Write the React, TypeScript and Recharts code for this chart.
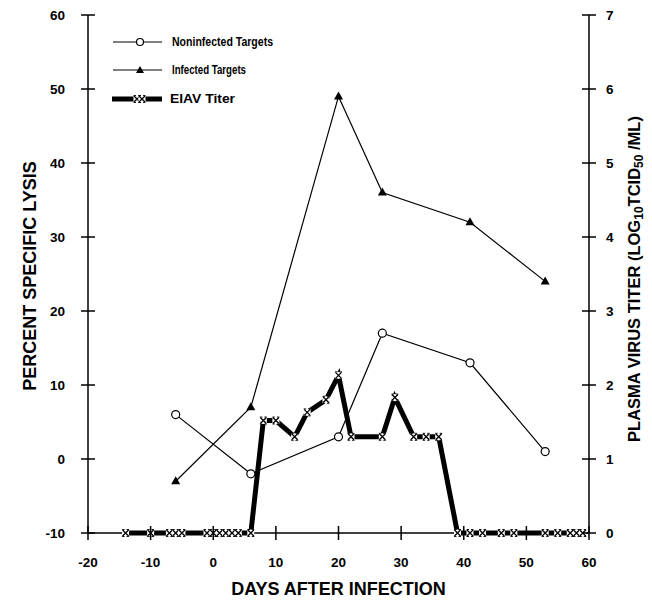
import { ComposedChart, Line, XAxis, YAxis, Legend } from 'recharts'

// days after infection / percent specific lysis
const lysisDays = [-6, 6, 20, 27, 41, 53]
const noninfectedLysis = [6, -2, 3, 17, 13, 1]
const infectedLysis = [-3, 7, 49, 36, 32, 24]

// plasma virus titer, log10 TCID50/ml
const titerDays = [-14, -10, -7, -6, -5, -1, 0, 1, 2, 3, 4, 6, 8, 10, 13, 15, 18, 20, 22, 27, 29, 32, 34, 36, 39, 41, 43, 46, 48, 53, 55, 57, 58, 59]
const titerValues = [0, 0, 0, 0, 0, 0, 0, 0, 0, 0, 0, 0, 1.52, 1.52, 1.3, 1.63, 1.8, 2.13, 1.3, 1.3, 1.83, 1.3, 1.3, 1.3, 0, 0, 0, 0, 0, 0, 0, 0, 0, 0]

const xTicks = [-20, -10, 0, 10, 20, 30, 40, 50, 60]
const lysisTicks = [-10, 0, 10, 20, 30, 40, 50, 60]
const titerTicks = [0, 1, 2, 3, 4, 5, 6, 7]

const noninfected = lysisDays.map((d, i) => ({ day: d, lysis: noninfectedLysis[i] }))
const infected = lysisDays.map((d, i) => ({ day: d, lysis: infectedLysis[i] }))
const titer = titerDays.map((d, i) => ({ day: d, titer: titerValues[i] }))

const W = 652
const H = 601
const LEFT = 88
const RIGHT = 589
const TOP = 15
const BOTTOM = 533
const FONT = '"Liberation Sans", Arial, sans-serif'

function LeftTick({ y, payload }: any) {
  return (
    <g>
      <line x1={LEFT - 7} x2={LEFT + 7} y1={y} y2={y} stroke="#000" strokeWidth={1.5} />
      <text x={LEFT - 23} y={y} textAnchor="end" dominantBaseline="central"
        fontFamily={FONT} fontWeight="bold" fontSize={13.5}>{payload.value}</text>
    </g>
  )
}

function RightTick({ y, payload }: any) {
  return (
    <g>
      <line x1={RIGHT - 7} x2={RIGHT + 7} y1={y} y2={y} stroke="#000" strokeWidth={1.5} />
      <text x={RIGHT + 17} y={y} textAnchor="start" dominantBaseline="central"
        fontFamily={FONT} fontWeight="bold" fontSize={13.5}>{payload.value}</text>
    </g>
  )
}

function BottomTick({ x, payload }: any) {
  return (
    <g>
      <line x1={x} x2={x} y1={BOTTOM - 7} y2={BOTTOM + 7} stroke="#000" strokeWidth={1.5} />
      <text x={x} y={BOTTOM + 29} textAnchor="middle" dominantBaseline="central"
        fontFamily={FONT} fontWeight="bold" fontSize={13.5}>{payload.value}</text>
    </g>
  )
}

function CircleDot({ cx, cy, index }: any) {
  return <circle key={`c-${index}`} cx={cx} cy={cy} r={4} fill="#fff" stroke="#000" strokeWidth={1.2} />
}

function TriangleDot({ cx, cy, index }: any) {
  return <path key={`t-${index}`} d={`M${cx},${cy - 5} L${cx + 4.5},${cy + 3} L${cx - 4.5},${cy + 3} Z`} fill="#000" />
}

function CrossMark({ cx, cy }: { cx: number; cy: number }) {
  return (
    <g>
      <rect x={cx - 3.5} y={cy - 3.5} width={7} height={7} fill="#fff" />
      <path d={`M${cx - 3},${cy - 3} L${cx + 3},${cy + 3} M${cx + 3},${cy - 3} L${cx - 3},${cy + 3}`} stroke="#000" strokeWidth={1.3} />
      <path d={`M${cx - 3.5},${cy - 3.5} L${cx - 1},${cy - 3.5} M${cx + 1},${cy - 3.5} L${cx + 3.5},${cy - 3.5} M${cx - 3.5},${cy + 3.5} L${cx - 1},${cy + 3.5} M${cx + 1},${cy + 3.5} L${cx + 3.5},${cy + 3.5}`} stroke="#000" strokeWidth={0.9} />
    </g>
  )
}

function CrossDot({ cx, cy, index }: any) {
  return <g key={`x-${index}`}><CrossMark cx={cx} cy={cy} /></g>
}

function LegendBox() {
  const text = { fontFamily: FONT, fontWeight: 'bold' as const, fontSize: 12.5, lengthAdjust: 'spacingAndGlyphs' }
  return (
    <svg width={200} height={80}>
      <line x1={8} x2={57} y1={9} y2={9} stroke="#000" strokeWidth={1.2} />
      <circle cx={35} cy={9} r={3.5} fill="#fff" stroke="#000" strokeWidth={1.2} />
      <text x={67} y={9} dominantBaseline="central" textLength={101} {...text}>Noninfected Targets</text>
      <line x1={8} x2={57} y1={37} y2={37} stroke="#000" strokeWidth={1.2} />
      <path d="M35,33 L39,40 L31,40 Z" fill="#000" />
      <text x={67} y={37} dominantBaseline="central" textLength={74} {...text}>Infected Targets</text>
      <line x1={7} x2={57} y1={66} y2={66} stroke="#000" strokeWidth={5} />
      <CrossMark cx={32} cy={66} />
      <CrossMark cx={37} cy={66} />
      <text x={65} y={66} dominantBaseline="central" textLength={65} {...text}>EIAV Titer</text>
    </svg>
  )
}

function LeftLabel({ viewBox }: any) {
  const cx = 30
  const cy = viewBox.y + viewBox.height / 2 + 2
  return (
    <text x={cx} y={cy} transform={`rotate(-90 ${cx} ${cy})`} textAnchor="middle" dominantBaseline="central"
      fontFamily={FONT} fontWeight="bold" fontSize={18}>PERCENT SPECIFIC LYSIS</text>
  )
}

function RightLabel({ viewBox }: any) {
  const cx = 634
  const cy = viewBox.y + viewBox.height / 2 + 5
  return (
    <text x={cx} y={cy} transform={`rotate(-90 ${cx} ${cy})`} textAnchor="middle" dominantBaseline="central"
      fontFamily={FONT} fontWeight="bold" fontSize={16.5}>
      PLASMA VIRUS TITER (LOG
      <tspan fontSize={12} dy={5}>10</tspan>
      <tspan dy={-5}>TCID</tspan>
      <tspan fontSize={12} dy={5}>50</tspan>
      <tspan dy={-5}> /ML)</tspan>
    </text>
  )
}

function BottomLabel({ viewBox }: any) {
  const cx = viewBox.x + viewBox.width / 2
  return (
    <text x={cx} y={589} textAnchor="middle" dominantBaseline="central"
      fontFamily={FONT} fontWeight="bold" fontSize={18}>DAYS AFTER INFECTION</text>
  )
}

export default function App() {
  return (
    <div style={{ position: 'fixed', left: 0, top: 0, width: W, height: H, background: '#fff' }}>
      <ComposedChart width={W} height={H} margin={{ top: TOP, right: 0, bottom: 0, left: 0 }}>
        <XAxis type="number" dataKey="day" domain={[-20, 60]} ticks={xTicks} height={H - BOTTOM}
          axisLine={{ stroke: '#000', strokeWidth: 1.5 }} tickLine={false} tick={<BottomTick />}
          label={<BottomLabel />} allowDuplicatedCategory={false} />
        <YAxis yAxisId="lysis" orientation="left" domain={[-10, 60]} ticks={lysisTicks} width={LEFT}
          axisLine={{ stroke: '#000', strokeWidth: 1.5 }} tickLine={false} tick={<LeftTick />}
          label={<LeftLabel />} />
        <YAxis yAxisId="titer" orientation="right" domain={[0, 7]} ticks={titerTicks} width={W - RIGHT}
          axisLine={{ stroke: '#000', strokeWidth: 1.5 }} tickLine={false} tick={<RightTick />}
          label={<RightLabel />} />
        <Legend content={<LegendBox />} layout="vertical" align="center" verticalAlign="middle"
          wrapperStyle={{ position: 'absolute', top: 33, left: 105, width: 200, height: 80 }} />
        <Line yAxisId="titer" data={titer} dataKey="titer" type="linear" stroke="#000" strokeWidth={5}
          strokeLinejoin="miter" dot={CrossDot} activeDot={false} isAnimationActive={false} legendType="none" />
        <Line yAxisId="lysis" data={noninfected} dataKey="lysis" type="linear" stroke="#000" strokeWidth={1.2}
          dot={CircleDot} activeDot={false} isAnimationActive={false} />
        <Line yAxisId="lysis" data={infected} dataKey="lysis" type="linear" stroke="#000" strokeWidth={1.2}
          dot={TriangleDot} activeDot={false} isAnimationActive={false} />
      </ComposedChart>
    </div>
  )
}
